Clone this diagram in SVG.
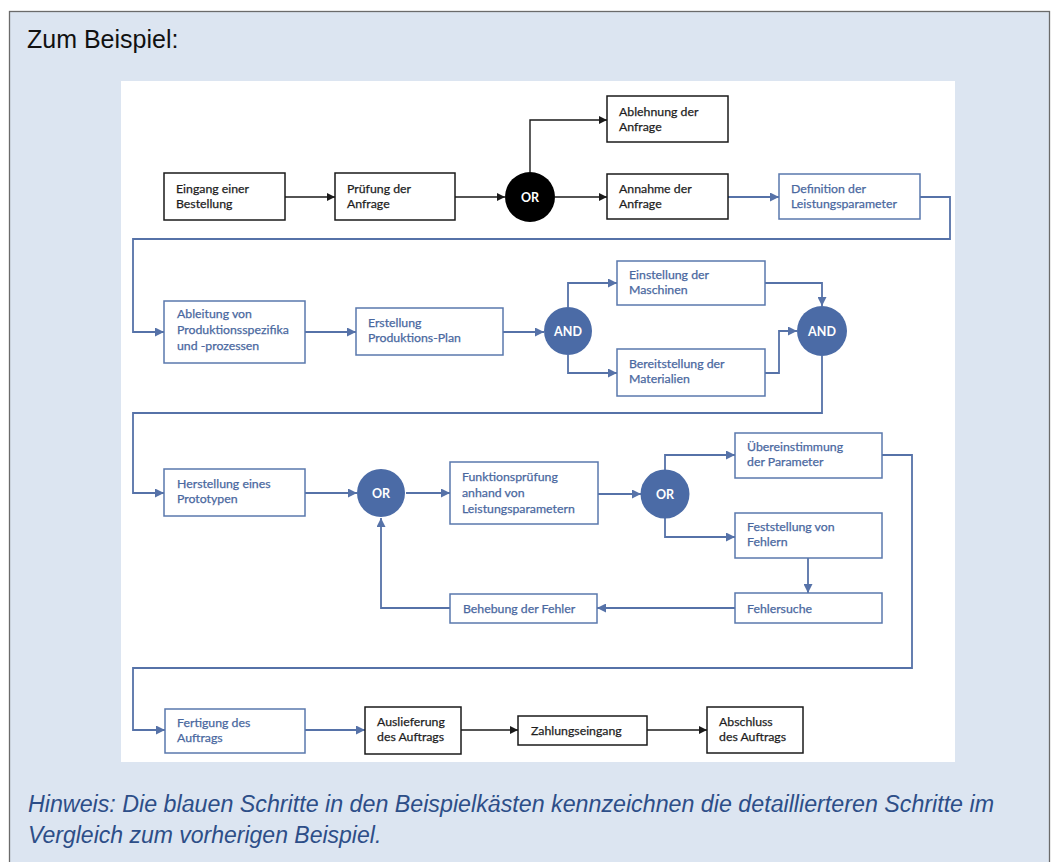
<svg xmlns="http://www.w3.org/2000/svg" width="1059" height="862" viewBox="0 0 1059 862">
<style>
.panel{fill:#dce5f1;stroke:#6b6b6b;stroke-width:1.3}
.title{font-family:"Liberation Sans",Arial,sans-serif;font-size:25px;fill:#111}
.hint{font-family:"Liberation Sans",Arial,sans-serif;font-size:23px;font-style:italic;fill:#2d4e88}
.bbox{fill:#fff;stroke:#1a1a1a;stroke-width:1.5}
.ubox{fill:#fff;stroke:#5a78ad;stroke-width:1.5}
.bt{font-family:Lato,"Open Sans",sans-serif;font-size:12.3px;fill:#1e1e1e;stroke:#1e1e1e;stroke-width:0.25}
.ut{font-family:Lato,"Open Sans",sans-serif;font-size:12.3px;fill:#4a68a0;stroke:#4a68a0;stroke-width:0.25}
.gate{fill:#4b6ba6}
.gateb{fill:#000}
.gt{font-family:Lato,"Open Sans",sans-serif;font-size:12.5px;font-weight:bold;fill:#fff;text-anchor:middle}
.cb{fill:none;stroke:#1a1a1a;stroke-width:1.4}
.cu{fill:none;stroke:#5672a8;stroke-width:1.8}
</style>
<defs>
<marker id="ak" viewBox="0 0 10 10" refX="10" refY="5" markerWidth="9" markerHeight="8" markerUnits="userSpaceOnUse" orient="auto"><path d="M0,0 L10,5 L0,10 z" fill="#1a1a1a"/></marker>
<marker id="au" viewBox="0 0 10 10" refX="10" refY="5" markerWidth="10" markerHeight="9" markerUnits="userSpaceOnUse" orient="auto"><path d="M0,0 L10,5 L0,10 z" fill="#5672a8"/></marker>
</defs>
<rect class="panel" x="9.5" y="11.5" width="1040" height="870"/>
<text class="title" x="27" y="48">Zum Beispiel:</text>
<rect x="121" y="81" width="834" height="681" fill="#ffffff"/>

<g id="connectors">
<path class="cb" d="M285,197 H335" marker-end="url(#ak)"/>
<path class="cb" d="M455,197 H505" marker-end="url(#ak)"/>
<path class="cb" d="M530,172 V120 H607" marker-end="url(#ak)"/>
<path class="cb" d="M555,197 H607" marker-end="url(#ak)"/>
<path class="cb" d="M461,730 H518" marker-end="url(#ak)"/>
<path class="cb" d="M647,730 H707" marker-end="url(#ak)"/>
<path class="cu" d="M728,197 H779" marker-end="url(#au)"/>
<path class="cu" d="M920,197 H950 V239 H133 V332 H164" marker-end="url(#au)"/>
<path class="cu" d="M305,332 H356" marker-end="url(#au)"/>
<path class="cu" d="M503,332 H544" marker-end="url(#au)"/>
<path class="cu" d="M568,307 V283 H617" marker-end="url(#au)"/>
<path class="cu" d="M568,355 V373 H617" marker-end="url(#au)"/>
<path class="cu" d="M765,283 H822 V306" marker-end="url(#au)"/>
<path class="cu" d="M765,373 H779 V331 H797" marker-end="url(#au)"/>
<path class="cu" d="M822,356 V413 H133 V493 H164" marker-end="url(#au)"/>
<path class="cu" d="M305,493 H357" marker-end="url(#au)"/>
<path class="cu" d="M406,493 H450" marker-end="url(#au)"/>
<path class="cu" d="M598,494 H641" marker-end="url(#au)"/>
<path class="cu" d="M665,470 V455 H735" marker-end="url(#au)"/>
<path class="cu" d="M665,518 V537 H735" marker-end="url(#au)"/>
<path class="cu" d="M808,558 V593" marker-end="url(#au)"/>
<path class="cu" d="M735,608 H597" marker-end="url(#au)"/>
<path class="cu" d="M450,608 H381 V518" marker-end="url(#au)"/>
<path class="cu" d="M882,455 H912 V668 H133 V730 H165" marker-end="url(#au)"/>
<path class="cu" d="M305,730 H365" marker-end="url(#au)"/>
</g>

<g id="n-eingang"><rect class="bbox" x="164" y="173" width="121" height="47"/><text class="bt" x="176" y="193">Eingang einer</text><text class="bt" x="176" y="208">Bestellung</text></g>
<g id="n-pruefung"><rect class="bbox" x="335" y="173" width="120" height="47"/><text class="bt" x="347" y="193">Prüfung der</text><text class="bt" x="347" y="208">Anfrage</text></g>
<g id="g-or1"><circle class="gateb" cx="530" cy="197" r="25"/><text class="gt" x="530" y="201.5">OR</text></g>
<g id="n-ablehnung"><rect class="bbox" x="607" y="96" width="121" height="46"/><text class="bt" x="619" y="116">Ablehnung der</text><text class="bt" x="619" y="131">Anfrage</text></g>
<g id="n-annahme"><rect class="bbox" x="607" y="174" width="121" height="45"/><text class="bt" x="619" y="193">Annahme der</text><text class="bt" x="619" y="208">Anfrage</text></g>
<g id="n-definition"><rect class="ubox" x="779" y="174" width="141" height="45"/><text class="ut" x="791" y="193">Definition der</text><text class="ut" x="791" y="208">Leistungsparameter</text></g>

<g id="n-ableitung"><rect class="ubox" x="164" y="301" width="141" height="62"/><text class="ut" x="177" y="318">Ableitung von</text><text class="ut" x="177" y="334">Produktionsspezifika</text><text class="ut" x="177" y="350">und -prozessen</text></g>
<g id="n-erstellung"><rect class="ubox" x="356" y="308" width="147" height="47"/><text class="ut" x="368" y="327">Erstellung</text><text class="ut" x="368" y="342">Produktions-Plan</text></g>
<g id="g-and1"><circle class="gate" cx="568" cy="331" r="24"/><text class="gt" x="568" y="335.5">AND</text></g>
<g id="n-einstellung"><rect class="ubox" x="617" y="261" width="148" height="44"/><text class="ut" x="629" y="279">Einstellung der</text><text class="ut" x="629" y="294">Maschinen</text></g>
<g id="n-bereitstellung"><rect class="ubox" x="617" y="349" width="148" height="47"/><text class="ut" x="629" y="368">Bereitstellung der</text><text class="ut" x="629" y="383">Materialien</text></g>
<g id="g-and2"><circle class="gate" cx="822" cy="331" r="25"/><text class="gt" x="822" y="335.5">AND</text></g>

<g id="n-herstellung"><rect class="ubox" x="164" y="469" width="141" height="47"/><text class="ut" x="177" y="488">Herstellung eines</text><text class="ut" x="177" y="503">Prototypen</text></g>
<g id="g-or2"><circle class="gate" cx="381" cy="493" r="24"/><text class="gt" x="381" y="497.5">OR</text></g>
<g id="n-funktion"><rect class="ubox" x="450" y="462" width="148" height="62"/><text class="ut" x="462" y="481">Funktionsprüfung</text><text class="ut" x="462" y="497">anhand von</text><text class="ut" x="462" y="513">Leistungsparametern</text></g>
<g id="g-or3"><circle class="gate" cx="665" cy="494" r="24.5"/><text class="gt" x="665" y="498.5">OR</text></g>
<g id="n-uebereinstimmung"><rect class="ubox" x="735" y="433" width="147" height="45"/><text class="ut" x="747" y="451">Übereinstimmung</text><text class="ut" x="747" y="466">der Parameter</text></g>
<g id="n-feststellung"><rect class="ubox" x="735" y="513" width="147" height="45"/><text class="ut" x="747" y="531">Feststellung von</text><text class="ut" x="747" y="546">Fehlern</text></g>
<g id="n-fehlersuche"><rect class="ubox" x="735" y="593" width="147" height="30"/><text class="ut" x="747" y="612.5">Fehlersuche</text></g>
<g id="n-behebung"><rect class="ubox" x="450" y="594" width="147" height="29"/><text class="ut" x="463" y="612.5">Behebung der Fehler</text></g>

<g id="n-fertigung"><rect class="ubox" x="165" y="709" width="140" height="44"/><text class="ut" x="177" y="727">Fertigung des</text><text class="ut" x="177" y="742">Auftrags</text></g>
<g id="n-auslieferung"><rect class="bbox" x="365" y="707" width="96" height="47"/><text class="bt" x="377" y="726">Auslieferung</text><text class="bt" x="377" y="741">des Auftrags</text></g>
<g id="n-zahlung"><rect class="bbox" x="518" y="716" width="129" height="29"/><text class="bt" x="531" y="735">Zahlungseingang</text></g>
<g id="n-abschluss"><rect class="bbox" x="707" y="707" width="96" height="46"/><text class="bt" x="719" y="726">Abschluss</text><text class="bt" x="719" y="741">des Auftrags</text></g>

<text class="hint" x="28" y="812" textLength="966" lengthAdjust="spacingAndGlyphs">Hinweis: Die blauen Schritte in den Beispielkästen kennzeichnen die detaillierteren Schritte im</text>
<text class="hint" x="28" y="843">Vergleich zum vorherigen Beispiel.</text>
</svg>
